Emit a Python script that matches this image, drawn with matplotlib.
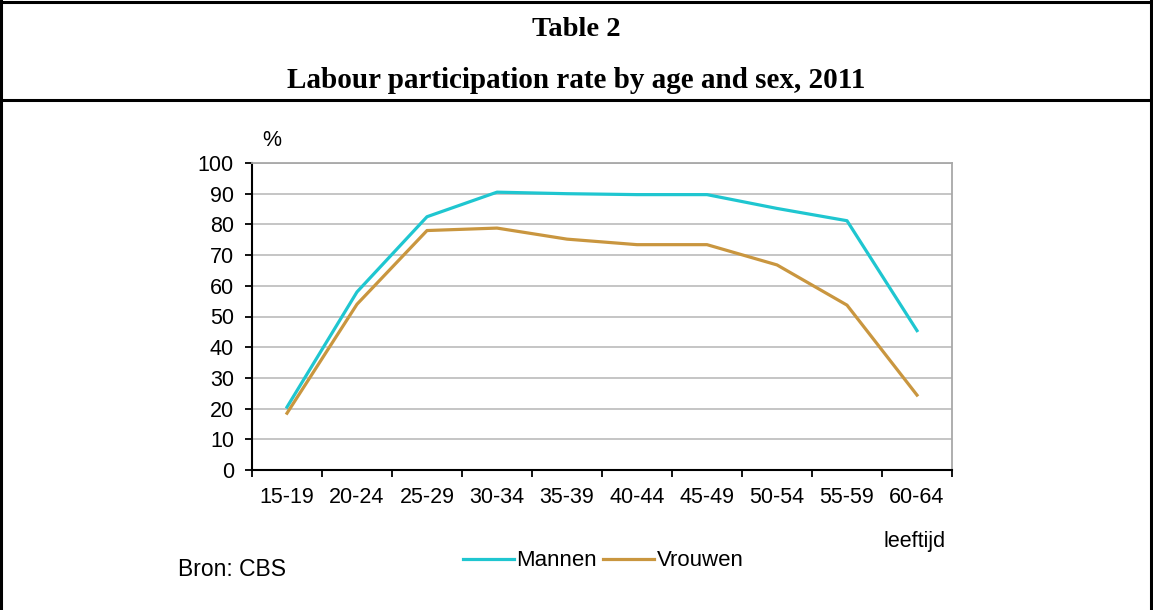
import matplotlib
matplotlib.use("Agg")
import matplotlib.pyplot as plt
from matplotlib.lines import Line2D

age_groups = ["15-19", "20-24", "25-29", "30-34", "35-39",
              "40-44", "45-49", "50-54", "55-59", "60-64"]
mannen  = [20.5, 58.0, 82.5, 90.5, 90.0, 89.7, 89.7, 85.2, 81.2, 45.4]
vrouwen = [18.5, 54.0, 78.0, 78.8, 75.2, 73.4, 73.4, 66.8, 53.7, 24.4]

CYAN = "#1fc6d0"
BROWN = "#c9963f"
FS = 15.5

fig = plt.figure(figsize=(11.53, 6.10), dpi=100)

# table frame
for y in (1 - 2 / 610, 1 - 100 / 610):
    fig.add_artist(Line2D([0, 1], [y, y], color="black", lw=2.2, transform=fig.transFigure))
for x in (1 / 1153, 1 - 2 / 1153):
    fig.add_artist(Line2D([x, x], [0, 1], color="black", lw=2.2, transform=fig.transFigure))

fig.text(0.5, 1 - 30 / 610, "Table 2", ha="center", va="center",
         family="Liberation Serif", fontweight="bold", fontsize=20.5)
fig.text(0.5, 1 - 80 / 610, "Labour participation rate by age and sex, 2011",
         ha="center", va="center", family="Liberation Serif", fontweight="bold", fontsize=21)

ax = fig.add_axes([252 / 1153, 140 / 610, 700 / 1153, 307 / 610])
x = range(len(age_groups))
ax.plot(x, mannen, color=CYAN, lw=2.3, label="Mannen")
ax.plot(x, vrouwen, color=BROWN, lw=2.3, label="Vrouwen")

ax.set_xlim(-0.5, len(age_groups) - 0.5)
ax.set_ylim(0, 100)
ax.set_yticks(range(0, 101, 10))
ax.set_xticks([i - 0.5 for i in range(len(age_groups) + 1)])
ax.set_xticklabels([])
ax.set_xticks(list(x), minor=True)
ax.set_xticklabels(age_groups, minor=True)
ax.tick_params(axis="x", which="major", length=5, width=1.3, direction="out")
ax.tick_params(axis="x", which="minor", length=0, pad=12)
ax.tick_params(axis="y", length=5, width=1.3, direction="out", pad=8)
for lab in ax.get_xticklabels(minor=True) + ax.get_yticklabels():
    lab.set_family("Liberation Sans")
    lab.set_fontsize(FS)

ax.yaxis.grid(True, color="#c0c0c0", lw=1.3)
ax.set_axisbelow(True)
ax.spines["left"].set_linewidth(1.5)
ax.spines["bottom"].set_linewidth(1.5)
ax.spines["top"].set_color("#a8a8a8")
ax.spines["right"].set_color("#a8a8a8")
ax.spines["top"].set_linewidth(1.3)
ax.spines["right"].set_linewidth(1.3)

fig.text(262 / 1153, 1 - 140 / 610, "%", ha="left", va="center",
         family="Liberation Sans", fontsize=FS)
fig.text(946 / 1153, 1 - 541 / 610, "leeftijd", ha="right", va="center",
         family="Liberation Sans", fontsize=FS)
fig.text(178 / 1153, 1 - 569 / 610, "Bron: CBS", ha="left", va="center",
         family="Liberation Sans", fontsize=16.5)

fig.legend(loc="center", bbox_to_anchor=(603 / 1153, 1 - 561 / 610), ncol=2,
           frameon=False, handlelength=2.3, handletextpad=0.1, columnspacing=0.3,
           prop={"family": "Liberation Sans", "size": 16})

fig.savefig("out.png", dpi=100, facecolor="white")
